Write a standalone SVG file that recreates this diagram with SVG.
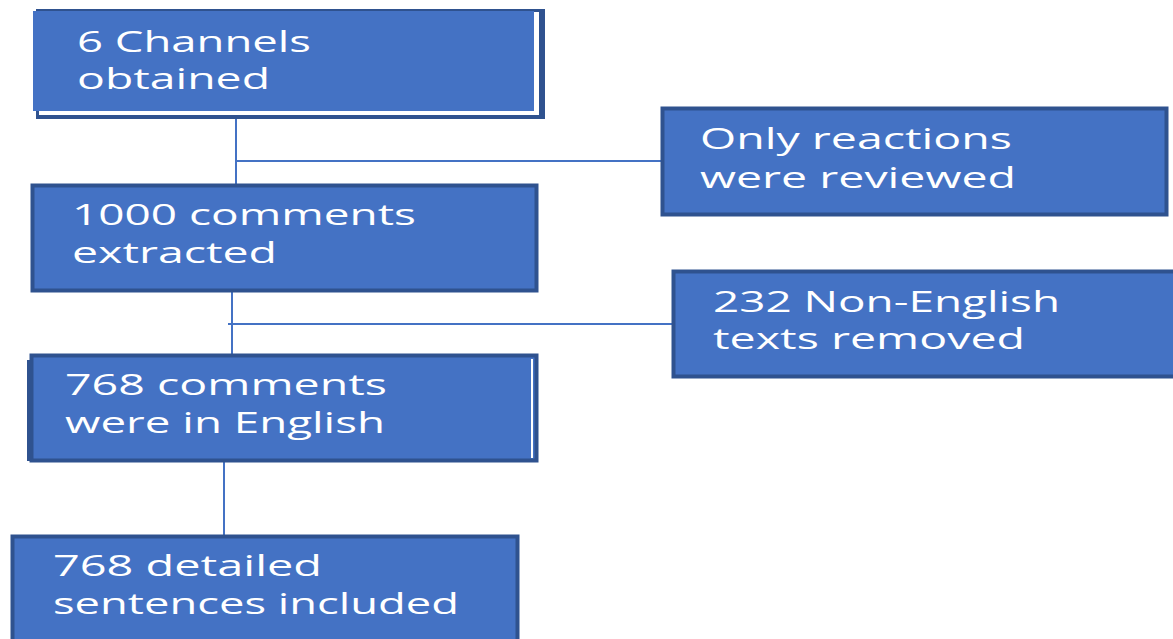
<svg xmlns="http://www.w3.org/2000/svg" width="1173" height="639" viewBox="0 0 1173 639">
<style>
.box{fill:#4472C4;stroke:#2F528F;stroke-width:4}
.dark{fill:#2F528F}
.blue{fill:#4472C4}
.t{font-family:"Open Sans","Liberation Sans",sans-serif;font-size:29px;fill:#FFFFFF}
.c{stroke:#4472C4;stroke-width:2;fill:none}
</style>
<rect width="1173" height="639" fill="#FFFFFF"/>
<g id="connectors">
<line class="c" x1="236" y1="110" x2="236" y2="186"/>
<line class="c" x1="236" y1="161" x2="662" y2="161"/>
<line class="c" x1="232" y1="292" x2="232" y2="355"/>
<line class="c" x1="228" y1="324" x2="673" y2="324"/>
<line class="c" x1="224" y1="462" x2="224" y2="536"/>
</g>
<g id="n1">
<rect class="dark" x="36" y="9" width="509" height="110"/>
<rect fill="#FFFFFF" x="39" y="12" width="500" height="103"/>
<rect class="blue" x="33" y="11" width="501" height="100"/>
<text class="t" x="77" y="52" textLength="234" lengthAdjust="spacingAndGlyphs">6 Channels</text>
<text class="t" x="77" y="89" textLength="193" lengthAdjust="spacingAndGlyphs">obtained</text>
</g>
<g id="n2">
<rect class="box" x="662.5" y="108.5" width="504" height="106"/>
<text class="t" x="700" y="149" textLength="312" lengthAdjust="spacingAndGlyphs">Only reactions</text>
<text class="t" x="700" y="188" textLength="316" lengthAdjust="spacingAndGlyphs">were reviewed</text>
</g>
<g id="n3">
<rect class="box" x="32.5" y="185.5" width="504" height="105"/>
<text class="t" x="72" y="225" textLength="344" lengthAdjust="spacingAndGlyphs">1000 comments</text>
<text class="t" x="72" y="263" textLength="205" lengthAdjust="spacingAndGlyphs">extracted</text>
</g>
<g id="n4">
<rect class="box" x="673.5" y="271.5" width="504" height="105"/>
<text class="t" x="713" y="312" textLength="347" lengthAdjust="spacingAndGlyphs">232 Non-English</text>
<text class="t" x="713" y="349" textLength="312" lengthAdjust="spacingAndGlyphs">texts removed</text>
</g>
<g id="n5">
<rect class="dark" x="27" y="360" width="4" height="101"/>
<rect class="box" x="31.5" y="355.5" width="505" height="105"/>
<line x1="532" y1="359" x2="532" y2="458" stroke="#FFFFFF" stroke-width="2"/>
<text class="t" x="65" y="395" textLength="322" lengthAdjust="spacingAndGlyphs">768 comments</text>
<text class="t" x="65" y="433" textLength="320" lengthAdjust="spacingAndGlyphs">were in English</text>
</g>
<g id="n6">
<rect class="box" x="12.5" y="536.5" width="505" height="110"/>
<text class="t" x="53" y="576" textLength="269" lengthAdjust="spacingAndGlyphs">768 detailed</text>
<text class="t" x="53" y="614" textLength="406" lengthAdjust="spacingAndGlyphs">sentences included</text>
</g>
</svg>
